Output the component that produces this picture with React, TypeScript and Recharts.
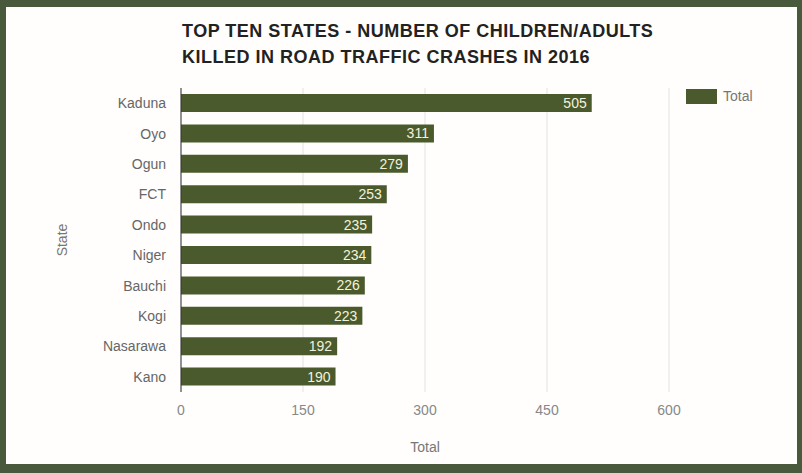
import React from 'react';
import { BarChart, Bar, XAxis, YAxis, CartesianGrid, LabelList, Label } from 'recharts';

const states = ['Kaduna', 'Oyo', 'Ogun', 'FCT', 'Ondo', 'Niger', 'Bauchi', 'Kogi', 'Nasarawa', 'Kano'];
const totals = [505, 311, 279, 253, 235, 234, 226, 223, 192, 190];
const xTicks = [0, 150, 300, 450, 600];
const titleLines = ['TOP TEN STATES - NUMBER OF CHILDREN/ADULTS', 'KILLED IN ROAD TRAFFIC CRASHES IN 2016'];

const data = states.map((s, i) => ({ state: s, Total: totals[i] }));

const BAR = '#4b5a2d';
const BORDER = '#48593c';
const FONT = '"Liberation Sans", Arial, sans-serif';

export default function App() {
  return (
    <div style={{ position: 'absolute', left: 0, top: 0, width: 802, height: 473, background: BORDER, fontFamily: FONT }}>
      <div style={{ position: 'absolute', left: 6, top: 7, width: 791, height: 457, background: '#fffefc' }} />
      <div style={{ position: 'absolute', left: 182, top: 18, fontWeight: 'bold', fontSize: 18, letterSpacing: 0.5, lineHeight: '26px', color: '#222', whiteSpace: 'nowrap' }}>
        {titleLines.map((t) => (<div key={t}>{t}</div>))}
      </div>
      <div style={{ position: 'absolute', left: 686, top: 89, width: 31, height: 15, background: BAR }} />
      <div style={{ position: 'absolute', left: 723, top: 88, fontSize: 14, lineHeight: '17px', color: '#777' }}>Total</div>
      <div style={{ position: 'absolute', left: 0, top: 0 }}>
        <BarChart width={802} height={473} data={data} layout="vertical" margin={{ top: 88, right: 133, bottom: 51, left: 0 }}>
          <CartesianGrid horizontal={false} stroke="#e2e2e2" />
          <XAxis type="number" domain={[0, 600]} ticks={xTicks} axisLine={false} tickLine={false} height={30}
            tick={{ fill: '#888', fontSize: 14, fontFamily: FONT }} tickMargin={7}>
            <Label value="Total" position="bottom" offset={20} style={{ fill: '#777', fontSize: 14, fontFamily: FONT }} />
          </XAxis>
          <YAxis type="category" dataKey="state" width={181} axisLine={{ stroke: '#333' }} tickLine={false}
            tick={{ fill: '#666', fontSize: 14, fontFamily: FONT }} tickMargin={9}>
            <Label value="State" angle={-90} position="insideLeft" offset={62} style={{ fill: '#777', fontSize: 14, fontFamily: FONT, textAnchor: 'middle' }} />
          </YAxis>
          <Bar dataKey="Total" fill={BAR} barSize={18} isAnimationActive={false}>
            <LabelList dataKey="Total" position="insideRight" offset={5} style={{ fill: '#f2f2dc', fontSize: 14, fontFamily: FONT }} />
          </Bar>
        </BarChart>
      </div>
    </div>
  );
}
